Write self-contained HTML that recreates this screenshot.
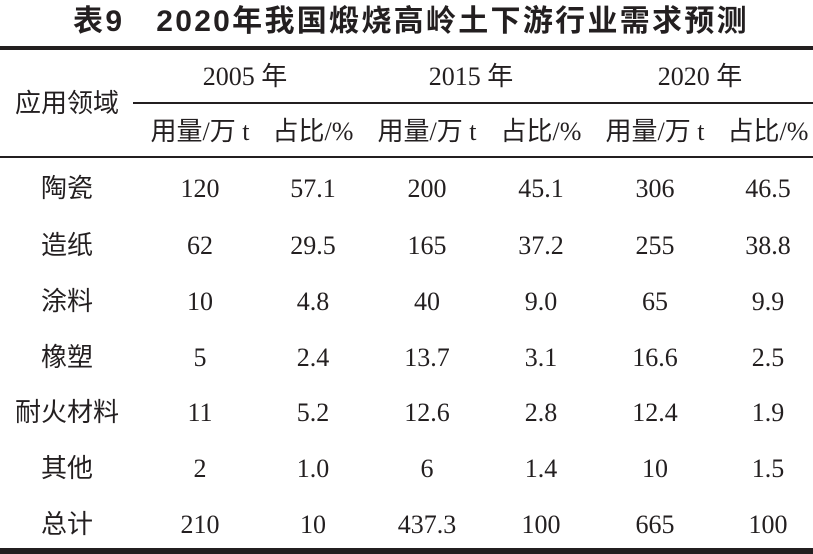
<!DOCTYPE html>
<html><head><meta charset="utf-8"><style>
body{margin:0;width:813px;height:554px;background:#fff;position:relative;overflow:hidden;color:#231f20}
.t{position:absolute;transform:translate(-50%,-50%);white-space:nowrap;font-family:"Liberation Serif","Noto Serif CJK SC",serif;font-size:26px;line-height:1}
.c{font-family:"Liberation Serif","Noto Sans CJK SC",sans-serif}
.r{position:absolute;background:#231f20}
</style></head><body>
<div class="t" style="left:411px;top:22px;font-family:'Liberation Sans','Noto Sans CJK SC',sans-serif;font-weight:bold;font-size:30px;letter-spacing:2.3px">表9&nbsp;&nbsp;&nbsp;2020年我国煅烧高岭土下游行业需求预测</div>
<div class="r" style="left:0;top:46px;width:813px;height:4px"></div>
<div class="r" style="left:133px;top:102px;width:680px;height:2px"></div>
<div class="r" style="left:0;top:156px;width:813px;height:2px"></div>
<div class="r" style="left:0;top:548px;width:813px;height:6px"></div>
<div class="t c" style="left:67px;top:104px">应用领域</div>
<div class="t c" style="left:245px;top:77px">2005 年</div>
<div class="t c" style="left:471px;top:77px">2015 年</div>
<div class="t c" style="left:700px;top:77px">2020 年</div>
<div class="t c" style="left:200px;top:132px">用量/万 t</div>
<div class="t c" style="left:313px;top:132px">占比/%</div>
<div class="t c" style="left:427px;top:132px">用量/万 t</div>
<div class="t c" style="left:541px;top:132px">占比/%</div>
<div class="t c" style="left:655px;top:132px">用量/万 t</div>
<div class="t c" style="left:768px;top:132px">占比/%</div>
<div id="rows"></div>
<script>
var d=[["陶瓷","120","57.1","200","45.1","306","46.5"],["造纸","62","29.5","165","37.2","255","38.8"],["涂料","10","4.8","40","9.0","65","9.9"],["橡塑","5","2.4","13.7","3.1","16.6","2.5"],["耐火材料","11","5.2","12.6","2.8","12.4","1.9"],["其他","2","1.0","6","1.4","10","1.5"],["总计","210","10","437.3","100","665","100"]];
var ys=[189,246,302,358,413,469,525],xs=[67,200,313,427,541,655,768],h="";
d.forEach(function(r,i){r.forEach(function(v,j){h+='<div class="t c" style="left:'+xs[j]+'px;top:'+ys[i]+'px">'+v+'</div>';});});
document.getElementById("rows").innerHTML=h;
</script>
</body></html>
